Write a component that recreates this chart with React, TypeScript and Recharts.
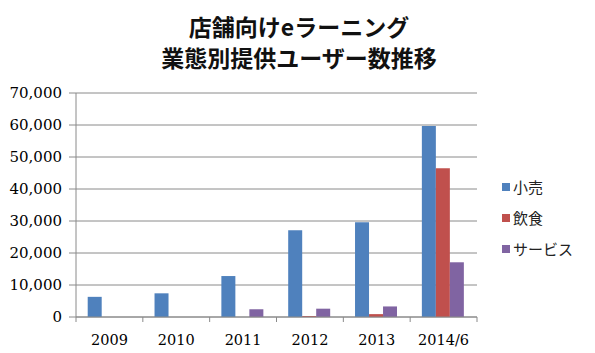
import React from 'react';
import { BarChart, Bar, XAxis, YAxis, CartesianGrid } from 'recharts';

const categories = ['2009', '2010', '2011', '2012', '2013', '2014/6'];
const retail = [6300, 7400, 12800, 27100, 29600, 59700];
const food = [0, 0, 0, 300, 900, 46500];
const service = [0, 0, 2400, 2600, 3300, 17100];
const yTicks = [0, 10000, 20000, 30000, 40000, 50000, 60000, 70000];
const seriesNames = ['小売', '飲食', 'サービス'];
const colors = ['#4F81BD', '#C0504D', '#8064A2'];
const titleLines = ['店舗向けeラーニング', '業態別提供ユーザー数推移'];

const data = categories.map((c, i) => ({
  name: c,
  retail: retail[i],
  food: food[i],
  service: service[i],
}));

const GRID = '#8a8a8a';

const XTick = (props: any) => {
  const { x, y, payload, index, visibleTicksCount } = props;
  const off = payload && typeof payload.offset === 'number' ? payload.offset : 0;
  const last = index === (visibleTicksCount ?? categories.length) - 1;
  return (
    <g>
      <line x1={x - off} x2={x - off} y1={y} y2={y + 5} stroke={GRID} strokeWidth={1} />
      {last && <line x1={x + off} x2={x + off} y1={y} y2={y + 5} stroke={GRID} strokeWidth={1} />}
      <text
        x={x}
        y={y + 28}
        textAnchor="middle"
        fontFamily="'DejaVu Serif', serif"
        fontSize={14.5}
        fill="#000"
      >
        {payload.value}
      </text>
    </g>
  );
};

export default function App() {
  return (
    <div style={{ position: 'absolute', left: 0, top: 0, width: 595, height: 353, background: '#fff' }}>
      <div
        style={{
          position: 'absolute',
          left: 0,
          top: 11,
          width: 595,
          textAlign: 'center',
          fontFamily: "'Noto Sans CJK JP', sans-serif",
          fontWeight: 700,
          fontSize: 23,
          lineHeight: '31px',
          color: '#111',
        }}
      >
        <div style={{ paddingLeft: 3 }}>{titleLines[0]}</div>
        <div style={{ paddingLeft: 3 }}>{titleLines[1]}</div>
      </div>
      <BarChart
        width={595}
        height={353}
        data={data}
        margin={{ top: 93, right: 118, bottom: 6, left: 16 }}
        barCategoryGap="17.5%"
        barGap={0}
      >
        <CartesianGrid vertical={false} stroke={GRID} strokeWidth={1} />
        <XAxis
          dataKey="name"
          height={30}
          tickLine={false}
          tickSize={0}
          tickMargin={0}
          axisLine={{ stroke: GRID }}
          tick={<XTick />}
          interval={0}
        />
        <YAxis
          width={60}
          domain={[0, 70000]}
          ticks={yTicks}
          interval={0}
          tickSize={7}
          tickMargin={7}
          tickLine={{ stroke: GRID }}
          axisLine={{ stroke: GRID }}
          tickFormatter={(v: number) => v.toLocaleString('en-US')}
          tick={{ fontFamily: "'DejaVu Serif', serif", fontSize: 15, fill: '#000' }}
        />
        <Bar dataKey="retail" name={seriesNames[0]} fill={colors[0]} isAnimationActive={false} />
        <Bar dataKey="food" name={seriesNames[1]} fill={colors[1]} isAnimationActive={false} />
        <Bar dataKey="service" name={seriesNames[2]} fill={colors[2]} isAnimationActive={false} />
      </BarChart>
      <div
        style={{
          position: 'absolute',
          left: 502,
          top: 171,
          width: 90,
          fontFamily: "'Noto Sans CJK JP', sans-serif",
          fontSize: 15,
          color: '#222',
        }}
      >
        {seriesNames.map((n, i) => (
          <div key={n} style={{ display: 'flex', alignItems: 'center', height: 31 }}>
            <span style={{ display: 'inline-block', width: 8, height: 8, background: colors[i], marginRight: 3 }} />
            <span style={{ lineHeight: '31px' }}>{n}</span>
          </div>
        ))}
      </div>
    </div>
  );
}
